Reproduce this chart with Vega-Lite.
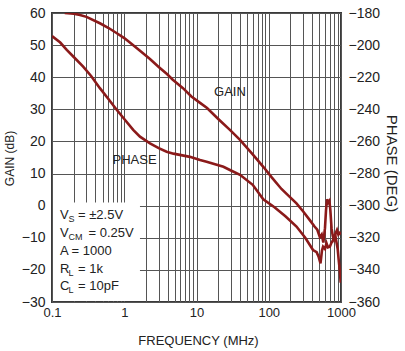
{
  "$schema": "https://vega.github.io/schema/vega-lite/v6.json",
  "width": 289,
  "height": 289,
  "autosize": {"type": "none"},
  "padding": {"left": 52, "top": 13, "right": 64, "bottom": 49},
  "background": "white",
  "config": {
    "view": {"stroke": "#3a3a3a", "strokeWidth": 2},
    "font": "Liberation Sans",
    "axis": {
      "domain": false,
      "ticks": false,
      "gridColor": "#555555",
      "gridWidth": 1,
      "gridOpacity": 1,
      "labelColor": "#222222",
      "titleColor": "#222222",
      "labelFont": "Liberation Sans",
      "titleFont": "Liberation Sans",
      "titleFontWeight": "normal",
      "labelOverlap": false,
      "labelFlush": false,
      "labelBound": false
    }
  },
  "datasets": {
    "gain": [
      {"f": 0.15, "v": 60.0}, {"f": 0.2, "v": 59.8}, {"f": 0.244, "v": 59.4}, {"f": 0.3, "v": 58.8},
      {"f": 0.46, "v": 56.8}, {"f": 0.6, "v": 55.4}, {"f": 0.79, "v": 53.7}, {"f": 1.0, "v": 52.2},
      {"f": 1.32, "v": 50.0}, {"f": 1.7, "v": 48.0}, {"f": 2.27, "v": 45.7}, {"f": 3.0, "v": 43.2},
      {"f": 3.9, "v": 41.0}, {"f": 4.7, "v": 39.2}, {"f": 6.5, "v": 36.6}, {"f": 8.5, "v": 34.0},
      {"f": 11.2, "v": 32.0}, {"f": 14, "v": 30.4}, {"f": 20, "v": 27.0}, {"f": 29, "v": 23.6},
      {"f": 40, "v": 20.5}, {"f": 60, "v": 16.0}, {"f": 84, "v": 12.1}, {"f": 110, "v": 8.8},
      {"f": 150, "v": 5.2}, {"f": 200, "v": 2.5}, {"f": 242, "v": 0.7}, {"f": 300, "v": -1.8},
      {"f": 370, "v": -4.5}, {"f": 430, "v": -6.5}, {"f": 470, "v": -7.5}, {"f": 510, "v": -9.8},
      {"f": 540, "v": -9.0}, {"f": 570, "v": -11.5}, {"f": 600, "v": -7.0}, {"f": 620, "v": -1.5},
      {"f": 640, "v": 2.0}, {"f": 665, "v": 1.0}, {"f": 690, "v": 1.5}, {"f": 710, "v": -1.0},
      {"f": 740, "v": -7.0}, {"f": 770, "v": -9.5}, {"f": 800, "v": -10.5}, {"f": 830, "v": -9.0},
      {"f": 860, "v": -11.0}, {"f": 900, "v": -13.5}, {"f": 930, "v": -17.0}, {"f": 960, "v": -20.0},
      {"f": 990, "v": -24.0}
    ],
    "phase": [
      {"f": 0.1, "v": -194.4}, {"f": 0.13, "v": -198.4}, {"f": 0.16, "v": -203.0}, {"f": 0.2, "v": -207.4},
      {"f": 0.27, "v": -213.4}, {"f": 0.35, "v": -219.4}, {"f": 0.46, "v": -226.8}, {"f": 0.6, "v": -233.4},
      {"f": 0.79, "v": -240.4}, {"f": 1.0, "v": -246.0}, {"f": 1.33, "v": -252.8}, {"f": 1.65, "v": -257.0},
      {"f": 2.27, "v": -261.2}, {"f": 3.0, "v": -264.2}, {"f": 3.86, "v": -266.4}, {"f": 4.8, "v": -267.6},
      {"f": 8.1, "v": -269.6}, {"f": 11.2, "v": -271.6}, {"f": 13.8, "v": -272.6}, {"f": 23.6, "v": -275.8},
      {"f": 29, "v": -277.8}, {"f": 40, "v": -280.8}, {"f": 60, "v": -287.0}, {"f": 84, "v": -296.0},
      {"f": 120, "v": -301.0}, {"f": 170, "v": -306.6}, {"f": 242, "v": -313.0}, {"f": 320, "v": -320.0},
      {"f": 410, "v": -327.6}, {"f": 460, "v": -329.0}, {"f": 490, "v": -331.8}, {"f": 520, "v": -336.0},
      {"f": 545, "v": -328.0}, {"f": 565, "v": -325.6}, {"f": 600, "v": -327.0}, {"f": 630, "v": -323.4},
      {"f": 660, "v": -326.0}, {"f": 700, "v": -325.6}, {"f": 740, "v": -323.0}, {"f": 780, "v": -321.4},
      {"f": 830, "v": -318.0}, {"f": 880, "v": -315.2}, {"f": 920, "v": -318.0}, {"f": 960, "v": -317.0},
      {"f": 990, "v": -318.0}
    ],
    "box": [
      {"f": 0.1, "f2": 1.65, "v": -30, "v2": 1}
    ],
    "curveLabels": [
      {"text": "GAIN", "f": 29, "v": 35.4},
      {"text": "PHASE", "f": 1.39, "v": 14.2}
    ],
    "conditions": [
      {"main": "V", "sub": "S", "rest": "= ±2.5V", "f": 0.129, "v": -2.9, "kind": "one"},
      {"main": "V", "sub": "CM", "rest": "= 0.25V", "f": 0.129, "v": -8.5, "kind": "two"},
      {"main": "A = 1000", "sub": "", "rest": "", "f": 0.129, "v": -14.1, "kind": "none"},
      {"main": "R", "sub": "L", "rest": "= 1k", "f": 0.129, "v": -19.7, "kind": "one"},
      {"main": "C", "sub": "L", "rest": "= 10pF", "f": 0.129, "v": -25.0, "kind": "one"}
    ]
  },
  "encoding": {
    "x": {
      "field": "f", "type": "quantitative",
      "scale": {"type": "log", "domain": [0.1, 1000], "nice": false},
      "axis": {
        "title": "FREQUENCY (MHz)",
        "values": [0.1,0.2,0.3,0.4,0.5,0.6,0.7,0.8,0.9,1,2,3,4,5,6,7,8,9,10,20,30,40,50,60,70,80,90,100,200,300,400,500,600,700,800,900,1000],
        "format": "~g",
        "labelExpr": "indexof(['0.1','1','10','100','1000'], datum.label) >= 0 ? datum.label : ''",
        "labelOverlap": false,
        "labelFontSize": 13,
        "labelPadding": 4,
        "titleFontSize": 13,
        "titleX": 146,
        "titleY": 38,
        "titleBaseline": "middle",
        "titleAlign": "center",
        "grid": true
      }
    }
  },
  "layer": [
    {
      "encoding": {
        "y": {
          "field": "v", "type": "quantitative",
          "scale": {"domain": [-30, 60], "nice": false},
          "axis": {
            "title": "GAIN (dB)",
            "values": [-30,-20,-10,0,10,20,30,40,50,60],
            "labelOverlap": false,
            "labelFontSize": 14,
            "labelPadding": 7,
            "titleFontSize": 12,
            "titleX": -43,
            "titleY": 145,
            "titleAngle": -90,
            "titleBaseline": "middle",
            "titleAlign": "center",
            "grid": true
          }
        }
      },
      "layer": [
        {
          "data": {"name": "gain"},
          "mark": {"type": "line", "color": "#8b1a1a", "strokeWidth": 2.6, "clip": true}
        },
        {
          "data": {"name": "box"},
          "mark": {"type": "rect", "fill": "white", "xOffset": 1, "yOffset": -1},
          "encoding": {
            "x2": {"field": "f2"},
            "y2": {"field": "v2"}
          }
        },
        {
          "data": {"name": "curveLabels"},
          "mark": {"type": "text", "fontSize": 13, "color": "#222222", "align": "center", "baseline": "middle"},
          "encoding": {"text": {"field": "text"}}
        },
        {
          "data": {"name": "conditions"},
          "mark": {"type": "text", "fontSize": 13, "color": "#222222", "align": "left", "baseline": "middle"},
          "encoding": {"text": {"field": "main"}}
        },
        {
          "data": {"name": "conditions"},
          "mark": {"type": "text", "fontSize": 9, "color": "#222222", "align": "left", "baseline": "middle", "dx": 8.5, "dy": 4},
          "encoding": {"text": {"field": "sub"}}
        },
        {
          "data": {"name": "conditions"},
          "transform": [{"filter": "datum.kind === 'one'"}],
          "mark": {"type": "text", "fontSize": 13, "color": "#222222", "align": "left", "baseline": "middle", "dx": 18},
          "encoding": {"text": {"field": "rest"}}
        },
        {
          "data": {"name": "conditions"},
          "transform": [{"filter": "datum.kind === 'two'"}],
          "mark": {"type": "text", "fontSize": 13, "color": "#222222", "align": "left", "baseline": "middle", "dx": 28.5},
          "encoding": {"text": {"field": "rest"}}
        }
      ]
    },
    {
      "data": {"name": "phase"},
      "mark": {"type": "line", "color": "#8b1a1a", "strokeWidth": 2.6, "clip": true},
      "encoding": {
        "y": {
          "field": "v", "type": "quantitative",
          "scale": {"domain": [-360, -180], "nice": false},
          "axis": {
            "orient": "right",
            "title": "PHASE (DEG)",
            "values": [-360,-340,-320,-300,-280,-260,-240,-220,-200,-180],
            "labelOverlap": false,
            "grid": false,
            "labelFontSize": 14,
            "labelPadding": 7,
            "titleFontSize": 15,
            "titleX": 50,
            "titleY": 150,
            "titleAngle": 90,
            "titleBaseline": "middle",
            "titleAlign": "center"
          }
        }
      }
    }
  ],
  "resolve": {"scale": {"y": "independent"}}
}
